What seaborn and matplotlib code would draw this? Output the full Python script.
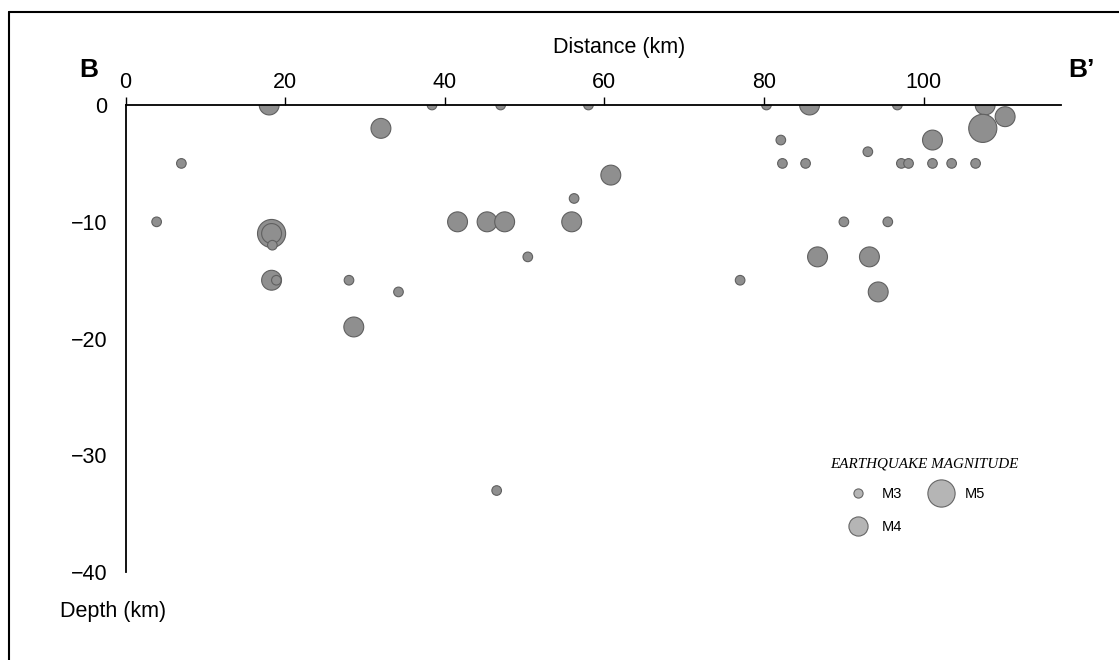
import matplotlib
matplotlib.use("Agg")
import matplotlib.pyplot as plt
import seaborn as sns
import pandas as pd
from matplotlib.lines import Line2D

# ---- data ----
distance = [3.9, 7.0, 18.0, 32.0, 38.4, 47.0, 41.6, 45.3, 47.5, 50.4,
            34.2, 56.2, 55.9, 60.8, 58.0, 77.0, 80.3, 85.7, 82.1, 82.3,
            85.2, 93.0, 96.7, 97.2, 98.1, 101.1, 103.5, 106.5, 101.1, 107.7,
            107.4, 110.2, 90.0, 95.5, 86.7, 93.2, 94.3, 46.5,
            18.3, 18.3, 18.4, 18.3, 18.9, 28.0, 28.6]
depth = [-10, -5, 0, -2, 0, 0, -10, -10, -10, -13,
         -16, -8, -10, -6, 0, -15, 0, 0, -3, -5,
         -5, -4, 0, -5, -5, -5, -5, -5, -3, 0,
         -2, -1, -10, -10, -13, -13, -16, -33,
         -11, -11, -12, -15, -15, -15, -19]
magnitude = [3, 3, 4, 4, 3, 3, 4, 4, 4, 3,
             3, 3, 4, 4, 3, 3, 3, 4, 3, 3,
             3, 3, 3, 3, 3, 3, 3, 3, 4, 4,
             5, 4, 3, 3, 4, 4, 4, 3,
             5, 4, 3, 4, 3, 3, 4]

x_ticks = [0, 20, 40, 60, 80, 100]
y_ticks = [-40, -30, -20, -10, 0]
legend_mags = [3, 4, 5]
legend_labels = ["M3", "M4", "M5"]

sns.set_theme(style="white")
plt.rcParams['font.family'] = ['Liberation Sans', 'DejaVu Sans']
plt.rcParams['text.color'] = 'black'
plt.rcParams['axes.labelcolor'] = 'black'
plt.rcParams['xtick.color'] = 'black'
plt.rcParams['ytick.color'] = 'black'

W, H = 1119, 660
fig = plt.figure(figsize=(W / 100, H / 100), dpi=100)
ax = fig.add_axes([125.5 / W, 1 - 572.3 / H, (1061 - 125.5) / W, (572.3 - 105) / H])

df = pd.DataFrame({"distance": distance, "depth": depth, "magnitude": magnitude})
size_map = {3: 48, 4: 205, 5: 410}
sns.scatterplot(data=df, x="distance", y="depth", size="magnitude", sizes=size_map,
                color="#8f8f8f", edgecolor="#606060", linewidth=0.8, alpha=1,
                legend=False, ax=ax)

ax.set_xlim(0, 117.2)
ax.set_ylim(-40, 0)
ax.set_xticks(x_ticks)
ax.set_yticks(y_ticks)
ax.set_yticklabels([f"\u2212{abs(v)}" if v < 0 else f"{v}" for v in y_ticks])
ax.xaxis.tick_top()
ax.set_xlabel("")
ax.set_ylabel("")
for s in ["bottom", "right"]:
    ax.spines[s].set_visible(False)
for s in ["top", "left"]:
    ax.spines[s].set_color("black")
    ax.spines[s].set_linewidth(1.3)
ax.tick_params(axis="both", which="both", direction="out", length=6, width=1,
               color="black", labelsize=15.5, labelcolor="black")
ax.tick_params(axis="x", pad=3)
ax.tick_params(axis="y", pad=7)
ax.set_facecolor("white")

# labels
fig.text(619.5 / W, 1 - 47 / H, "Distance (km)", ha="center", va="center", fontsize=15.5, color="black")
fig.text(60 / W, 1 - 611 / H, "Depth (km)", ha="left", va="center", fontsize=15.5, color="black")
fig.text(89 / W, 1 - 70 / H, "B", ha="center", va="center", fontsize=19, fontweight="bold", color="black")
fig.text(1081 / W, 1 - 70 / H, "B\u2019", ha="center", va="center", fontsize=19, fontweight="bold", color="black")

# legend
fig.text(830 / W, 1 - 464 / H, "EARTHQUAKE MAGNITUDE", ha="left", va="center",
         family="Liberation Serif", style="italic", fontsize=10.9, color="black")
ms = {3: 6.6, 4: 13.8, 5: 19.6}
handles = [Line2D([], [], marker="o", linestyle="none", markersize=ms[m],
                  markerfacecolor="#b5b5b5", markeredgecolor="#666666", markeredgewidth=0.8)
           for m in legend_mags]
leg = ax.legend(handles, legend_labels, ncol=2,
                prop={"size": 10.5}, frameon=False, handlelength=2.4, handletextpad=0.4,
                labelspacing=1.25, columnspacing=1.5, borderpad=0, borderaxespad=0,
                loc="upper left", bbox_to_anchor=(840.5 / W, 1 - 487.5 / H),
                bbox_transform=fig.transFigure)
for t in leg.get_texts():
    t.set_color("black")

# outer frame (top and left edges only visible)
fig.add_artist(Line2D([9 / W, 1.0], [1 - 12 / H, 1 - 12 / H], transform=fig.transFigure,
                      color="black", linewidth=1.5))
fig.add_artist(Line2D([9 / W, 9 / W], [0.0, 1 - 12 / H], transform=fig.transFigure,
                      color="black", linewidth=1.5))

fig.savefig("out.png", dpi=100, facecolor="white")
